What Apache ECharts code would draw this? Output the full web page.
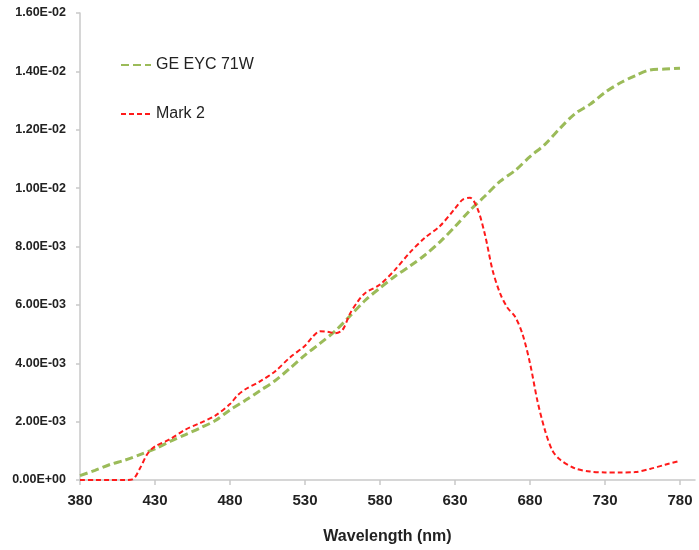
<!DOCTYPE html>
<html>
<head>
<meta charset="utf-8">
<script src="https://cdn.jsdelivr.net/npm/echarts@6/dist/echarts.min.js"></script>
<style>
  html, body { margin: 0; padding: 0; background: #fff; }
  #spectrum { width: 699px; height: 550px; }
</style>
</head>
<body>
<div id="spectrum"></div>
<script>
'use strict'
// wavelength ticks shown on the x axis (nm)
var wavelengthTicks = [380, 430, 480, 530, 580, 630, 680, 730, 780];

// GE EYC 71W, sampled every 10 nm
var geWavelengths = [380, 390, 400, 410, 420, 430, 440, 450, 460, 470, 480, 490, 500, 510, 520, 530, 540, 550, 560, 570,
  580, 590, 600, 610, 620, 630, 640, 650, 660, 670, 680, 690, 700, 710, 720, 730, 740, 750, 760, 770, 780];
var geValues = [0.00015, 0.00033, 0.00053, 0.00068, 0.00087, 0.00107, 0.00132, 0.00155, 0.00178, 0.00203,
  0.0024, 0.00272, 0.00306, 0.0034, 0.00383, 0.00428, 0.00468, 0.0051, 0.00562, 0.00615,
  0.00658, 0.00698, 0.00733, 0.00771, 0.00816, 0.00868, 0.00924, 0.00973, 0.01023, 0.0106,
  0.01108, 0.0115, 0.01205, 0.01255, 0.01287, 0.01328, 0.0136, 0.01385, 0.01405, 0.01408, 0.01411];

// Mark 2
var markWavelengths = [380, 390, 400, 410, 415, 420, 425, 430, 440, 450, 460, 470, 480, 485, 490, 500, 510, 520, 530, 535,
  540, 545, 550, 555, 560, 565, 570, 580, 590, 600, 610, 620, 630, 635, 640, 645, 650, 655, 660, 665,
  670, 675, 680, 685, 690, 695, 700, 710, 720, 730, 740, 750, 760, 770, 780];
var markValues = [0, 0, 0, 0, 0.00002, 0.0004, 0.0009, 0.00115, 0.0014, 0.00172, 0.00195, 0.0022, 0.0026, 0.0029, 0.0031,
  0.00338, 0.00372, 0.0042, 0.0046, 0.0049, 0.0051, 0.00508, 0.00503, 0.00514, 0.0057, 0.0061, 0.0064,
  0.0067, 0.0072, 0.0078, 0.0083, 0.0087, 0.0093, 0.0096, 0.00967, 0.0093, 0.0084, 0.0072, 0.0064, 0.0059,
  0.0056, 0.005, 0.004, 0.0027, 0.0017, 0.001, 0.0007, 0.0004, 0.00029, 0.00026, 0.00026, 0.00027, 0.00038, 0.00052, 0.00066];

function pairs(xs, ys) {
  return xs.map(function (x, i) { return [x, ys[i]]; });
}

// Excel style scientific labels: 1.60E-02
function sci(v) {
  var parts = v.toExponential(2).split('e');
  var exp = parseInt(parts[1], 10);
  var sign = exp < 0 ? '-' : '+';
  var digits = Math.abs(exp) < 10 ? '0' + Math.abs(exp) : '' + Math.abs(exp);
  return parts[0] + 'E' + sign + digits;
}

var fontName = '"Liberation Sans", Arial, sans-serif';
var axisGrey = '#c9c9c9';

var spectrum_chart = echarts.init(document.getElementById('spectrum'));
spectrum_chart.setOption({
  animation: false,
  color: ['#9bbb59', '#ff1a1a'],
  grid: {
    left: 80,
    right: 4,
    top: 13,
    bottom: 69
  },
  legend: {
    orient: 'vertical',
    left: 115,
    top: 52,
    itemWidth: 30,
    itemHeight: 14,
    itemGap: 33,
    itemStyle: { opacity: 0 },
    textStyle: {
      fontFamily: fontName,
      fontSize: 16,
      color: '#222'
    }
  },
  xAxis: {
    type: 'value',
    min: 380,
    max: 790,
    interval: 50,
    name: 'Wavelength (nm)',
    nameLocation: 'middle',
    nameGap: 49,
    nameTextStyle: {
      fontFamily: fontName,
      fontSize: 16,
      fontWeight: 'bold',
      color: '#222'
    },
    splitLine: { show: false },
    axisLine: { lineStyle: { color: axisGrey, width: 1.5 } },
    axisTick: {
      show: true,
      length: 5,
      customValues: wavelengthTicks,
      lineStyle: { color: axisGrey, width: 1.5 }
    },
    axisLabel: {
      customValues: wavelengthTicks,
      margin: 13,
      fontFamily: fontName,
      fontSize: 15,
      fontWeight: 'bold',
      color: '#222'
    }
  },
  yAxis: {
    type: 'value',
    min: 0,
    max: 0.016,
    interval: 0.002,
    splitLine: { show: false },
    axisLine: { show: true, lineStyle: { color: axisGrey, width: 1.5 } },
    axisTick: { show: true, length: 4, lineStyle: { color: axisGrey, width: 1.5 } },
    axisLabel: {
      margin: 14,
      fontFamily: fontName,
      fontSize: 12.5,
      fontWeight: 'bold',
      color: '#222',
      formatter: sci
    }
  },
  series: [
    {
      name: 'GE EYC 71W',
      type: 'line',
      smooth: 0.3,
      symbol: 'none',
      lineStyle: { width: 3, type: [8, 4] },
      data: pairs(geWavelengths, geValues)
    },
    {
      name: 'Mark 2',
      type: 'line',
      smooth: 0.3,
      symbol: 'none',
      lineStyle: { width: 2, type: [5, 3] },
      data: pairs(markWavelengths, markValues)
    }
  ]
});
</script>
</body>
</html>
